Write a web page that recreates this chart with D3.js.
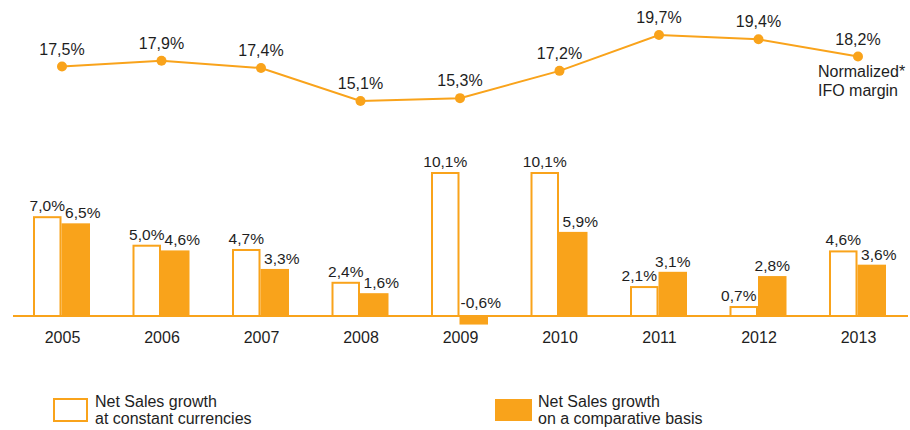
<!DOCTYPE html>
<html>
<head>
<meta charset="utf-8">
<script src="https://cdn.jsdelivr.net/npm/d3@7"></script>
<style>
  body { margin: 0; background: #fff; }
  text { font-family: Arial, "Liberation Sans", sans-serif; fill: #1e1e1e; }
</style>
</head>
<body>
<script>
const years = ["2005", "2006", "2007", "2008", "2009", "2010", "2011", "2012", "2013"];
const ifoMargin = [17.5, 17.9, 17.4, 15.1, 15.3, 17.2, 19.7, 19.4, 18.2];
const constantCurrencies = [7.0, 5.0, 4.7, 2.4, 10.1, 10.1, 2.1, 0.7, 4.6];
const comparativeBasis = [6.5, 4.6, 3.3, 1.6, -0.6, 5.9, 3.1, 2.8, 3.6];
const legendLabels = [
  ["Net Sales growth", "at constant currencies"],
  ["Net Sales growth", "on a comparative basis"]
];

const width = 910;
const height = 430;
const orange = "#f9a31b";
const fmt = v => v.toFixed(1).replace(".", ",") + "%";

const svg = d3.select("body").append("svg")
  .attr("width", width)
  .attr("height", height);

const x = d3.scalePoint().domain(years).range([62, 858]);
const sub = d3.scaleBand().domain(["cc", "cb"]).range([-29, 28]).paddingInner(0);

// top line: IFO margin
const yLine = d3.scaleLinear().domain([15.1, 19.7]).range([101, 35]);

const lineData = years.map((y, i) => ({ year: y, v: ifoMargin[i] }));

svg.append("path")
  .datum(lineData)
  .attr("fill", "none")
  .attr("stroke", orange)
  .attr("stroke-width", 2)
  .attr("d", d3.line().x(d => x(d.year)).y(d => yLine(d.v)));

svg.selectAll(".dot")
  .data(lineData)
  .enter()
  .append("circle")
  .attr("class", "dot")
  .attr("cx", d => x(d.year))
  .attr("cy", d => yLine(d.v))
  .attr("r", 5)
  .attr("fill", orange);

svg.selectAll(".line-label")
  .data(lineData)
  .enter()
  .append("text")
  .attr("class", "line-label")
  .attr("x", d => x(d.year))
  .attr("y", d => yLine(d.v) - 12)
  .attr("text-anchor", "middle")
  .style("font-size", "16px")
  .text(d => fmt(d.v));

const note = svg.append("text")
  .attr("x", x("2013") - 40)
  .attr("y", yLine(18.2) + 20)
  .style("font-size", "16px");
note.append("tspan").text("Normalized*");
note.append("tspan").attr("x", x("2013") - 40).attr("dy", 19).text("IFO margin");

// bottom bars: net sales growth
const yBar = d3.scaleLinear().domain([0, 10.1]).range([316, 172]);

const groups = svg.selectAll(".group")
  .data(years.map((y, i) => ({ year: y, cc: constantCurrencies[i], cb: comparativeBasis[i] })))
  .enter()
  .append("g")
  .attr("class", "group")
  .attr("transform", d => `translate(${x(d.year)},0)`);

groups.append("rect")
  .attr("x", sub("cc") + 1)
  .attr("y", d => yBar(d.cc) + 1)
  .attr("width", sub.bandwidth() - 2)
  .attr("height", d => yBar(0) - yBar(d.cc) - 1)
  .attr("fill", "#fff")
  .attr("stroke", orange)
  .attr("stroke-width", 2);

groups.append("rect")
  .attr("x", sub("cb"))
  .attr("y", d => yBar(Math.max(0, d.cb)))
  .attr("width", sub.bandwidth())
  .attr("height", d => Math.abs(yBar(0) - yBar(d.cb)))
  .attr("fill", orange);

groups.append("text")
  .attr("x", d => sub("cc") + sub.bandwidth() / 2 + (d.cc < d.cb ? -5 : 0))
  .attr("y", d => yBar(d.cc) - 5)
  .attr("text-anchor", "middle")
  .style("font-size", "15.5px")
  .text(d => fmt(d.cc));

groups.append("text")
  .attr("x", d => sub("cb") + sub.bandwidth() / 2 + (d.cc >= d.cb ? 7 : 0))
  .attr("y", d => d.cb >= 0 ? yBar(d.cb) - 5 : yBar(0) - 8)
  .attr("text-anchor", "middle")
  .style("font-size", "15.5px")
  .text(d => fmt(d.cb));

// baseline
svg.append("line")
  .attr("x1", 13)
  .attr("x2", 908)
  .attr("y1", yBar(0))
  .attr("y2", yBar(0))
  .attr("stroke", orange)
  .attr("stroke-width", 2);

const xAxis = svg.append("g")
  .attr("transform", `translate(0,${yBar(0)})`)
  .call(d3.axisBottom(x).tickSize(0).tickPadding(16));
xAxis.select(".domain").remove();
xAxis.selectAll("text")
  .style("font-size", "16px")
  .style("font-family", "Arial, 'Liberation Sans', sans-serif")
  .attr("fill", "#1e1e1e");

// legend
const legend = svg.selectAll(".legend")
  .data(legendLabels)
  .enter()
  .append("g")
  .attr("class", "legend")
  .attr("transform", (d, i) => `translate(${i === 0 ? 53 : 495},398)`);

legend.append("rect")
  .attr("x", (d, i) => i === 0 ? 1 : 0)
  .attr("y", 1)
  .attr("width", (d, i) => i === 0 ? 33 : 37)
  .attr("height", 22)
  .attr("fill", (d, i) => i === 0 ? "#fff" : orange)
  .attr("stroke", (d, i) => i === 0 ? orange : "none")
  .attr("stroke-width", 2);

legend.append("text")
  .attr("x", (d, i) => i === 0 ? 42 : 43)
  .attr("y", 9)
  .style("font-size", "16px")
  .text(d => d[0]);

legend.append("text")
  .attr("x", (d, i) => i === 0 ? 42 : 43)
  .attr("y", 26)
  .style("font-size", "16px")
  .text(d => d[1]);
</script>
</body>
</html>
